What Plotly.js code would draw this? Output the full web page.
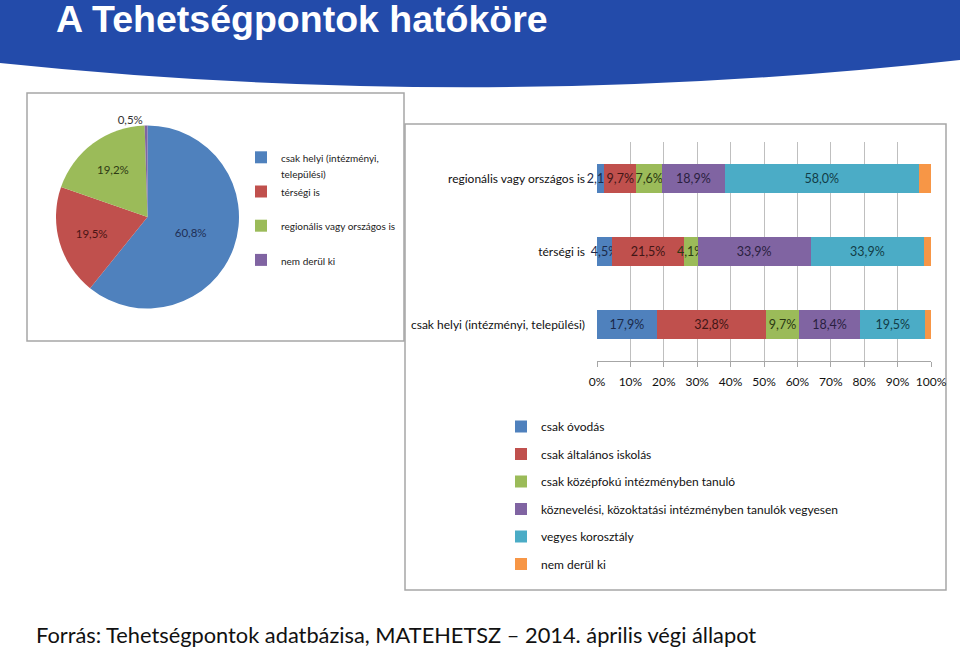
<!DOCTYPE html>
<html><head><meta charset="utf-8">
<script src="https://cdn.plot.ly/plotly-3.0.1.min.js"></script>
<style>html,body{margin:0;padding:0;background:#fff}#chart{width:960px;height:648px}</style>
</head><body><div id="chart"></div>
<script>
// ---- Pie: hatókör (scope) ----
const pieLabels = ['csak helyi (intézményi,<br>települési)', 'térségi is', 'regionális vagy országos is', 'nem derül ki'];
const pieValues = [60.8, 19.5, 19.2, 0.5];
const pieColors = ['#4F81BD', '#C0504D', '#9BBB59', '#8064A2'];
const pieTextColors = ['#1F2F55', '#4A1414', '#2E3A14', '#333333'];

// ---- Stacked bars ----
const barCategories = ['csak helyi (intézményi, települési)', 'térségi is', 'regionális vagy országos is'];
const seriesNames = ['csak óvodás', 'csak általános iskolás', 'csak középfokú intézményben tanuló',
  'köznevelési, közoktatási intézményben tanulók vegyesen', 'vegyes korosztály', 'nem derül ki'];
const csakOvodas = [17.9, 4.5, 2.1];
const csakAltalanos = [32.8, 21.5, 9.7];
const csakKozepfoku = [9.7, 4.1, 7.6];
const kozneveles = [18.4, 33.9, 18.9];
const vegyesKorosztaly = [19.5, 33.9, 58.0];
const nemDerulKi = [1.7, 2.1, 3.7];
const barColors = ['#4F81BD', '#C0504D', '#9BBB59', '#8064A2', '#4BACC6', '#F79646'];
const barTextColors = ['#1B2A4A', '#421616', '#2A3812', '#2A1F40', '#123C47', '#333333'];
const xTickVals = [0, 10, 20, 30, 40, 50, 60, 70, 80, 90, 100];
const xTickLabels = ['0%', '10%', '20%', '30%', '40%', '50%', '60%', '70%', '80%', '90%', '100%'];

const FONT = 'Lato, "Open Sans", sans-serif';
const X = px => px / 960;
const Y = py => 1 - py / 648;

const seriesValues = [csakOvodas, csakAltalanos, csakKozepfoku, kozneveles, vegyesKorosztaly, nemDerulKi];

const pieLegendText = pieLabels.map(l => {
  const lines = l.split('<br>');
  const inner = lines.map(s => '<span style="font-size:10px">' + s + '</span>').join('<br>');
  return lines.length < 2 ? inner + '<br> ' : inner;
});

const traces = [{
  type: 'pie',
  labels: pieLegendText,
  values: pieValues,
  sort: false,
  direction: 'clockwise',
  rotation: 0,
  marker: {colors: pieColors, line: {width: 0}},
  texttemplate: '%{value:.1f}%',
  textposition: ['inside', 'inside', 'inside', 'outside'],
  insidetextorientation: 'horizontal',
  textfont: {family: FONT, size: 11.5, color: pieTextColors},
  domain: {x: [X(56), X(239)], y: [Y(308.5), Y(125.5)]},
  legend: 'legend',
  hoverinfo: 'skip'
}];

seriesValues.forEach((vals, i) => {
  traces.push({
    type: 'bar',
    orientation: 'h',
    y: barCategories,
    x: vals,
    name: seriesNames[i],
    legend: 'legend2',
    legendgroup: 'g' + i,
    marker: {color: barColors[i], line: {width: 0}},
    texttemplate: i < 5 ? '%{x:.1f}%' : '',
    textposition: i < 5 ? 'inside' : 'none',
    insidetextanchor: 'middle',
    textangle: 0,
    constraintext: 'none',
    textfont: {family: FONT, size: 12.5, color: barTextColors[i]},
    cliponaxis: false,
    hoverinfo: 'skip'
  });
});

const layout = {
  width: 960, height: 648,
  margin: {l: 0, r: 0, t: 0, b: 0},
  paper_bgcolor: '#ffffff', plot_bgcolor: '#ffffff',
  separators: ', ',
  barmode: 'stack',
  bargap: 0.61,
  hovermode: false,
  showlegend: true,
  xaxis: {
    domain: [X(597), X(931)], range: [0, 100], fixedrange: true,
    tickmode: 'array', tickvals: xTickVals, ticktext: xTickLabels,
    showgrid: true, gridcolor: '#BFBFBF', gridwidth: 1, zeroline: false,
    showline: true, linecolor: '#A6A6A6', linewidth: 1,
    ticks: 'outside', ticklen: 5, tickcolor: '#A6A6A6',
    tickfont: {family: FONT, size: 12, color: '#111'},
    ticklabelstandoff: 5
  },
  yaxis: {
    domain: [Y(361), Y(142)], type: 'category', fixedrange: true,
    showgrid: false, zeroline: false, showline: false, ticks: '',
    tickfont: {family: FONT, size: 12, color: '#111'},
    ticklabelstandoff: 11
  },
  legend: {
    x: X(241), y: Y(143), xanchor: 'left', yanchor: 'top',
    font: {family: FONT, size: 12, color: '#222'},
    valign: 'top', bgcolor: 'rgba(0,0,0,0)', traceorder: 'normal'
  },
  legend2: {
    x: X(501), y: Y(412), xanchor: 'left', yanchor: 'top',
    font: {family: FONT, size: 12, color: '#111'},
    bgcolor: 'rgba(0,0,0,0)', traceorder: 'grouped', tracegroupgap: 8.5
  },
  shapes: [
    {type: 'path', xref: 'paper', yref: 'paper', layer: 'above',
     path: `M 0,1 L 1,1 L 1,${Y(60)} Q ${X(480)},${Y(113)} 0,${Y(63)} Z`,
     fillcolor: '#234BAA', line: {width: 0}},
    {type: 'rect', xref: 'paper', yref: 'paper', layer: 'below',
     x0: X(27), x1: X(404), y0: Y(341), y1: Y(93),
     line: {color: '#A6A6A6', width: 1.5}, fillcolor: 'rgba(0,0,0,0)'},
    {type: 'rect', xref: 'paper', yref: 'paper', layer: 'below',
     x0: X(405), x1: X(946), y0: Y(590), y1: Y(124),
     line: {color: '#A6A6A6', width: 1.5}, fillcolor: 'rgba(0,0,0,0)'}
  ],
  annotations: [
    {text: 'A Tehetségpontok hatóköre', xref: 'paper', yref: 'paper',
     x: X(54), y: Y(19), xanchor: 'left', yanchor: 'middle', showarrow: false,
     font: {family: '"Liberation Sans", Arial, sans-serif', size: 37.5, color: '#ffffff', weight: 'bold'}},
    {text: 'Forrás: Tehetségpontok adatbázisa, MATEHETSZ – 2014. április végi állapot', xref: 'paper', yref: 'paper',
     x: X(34), y: Y(634), xanchor: 'left', yanchor: 'middle', showarrow: false,
     font: {family: FONT, size: 21.8, color: '#111'}}
  ]
};

Plotly.newPlot('chart', traces, layout, {displayModeBar: false, staticPlot: true});
</script>
</body></html>
